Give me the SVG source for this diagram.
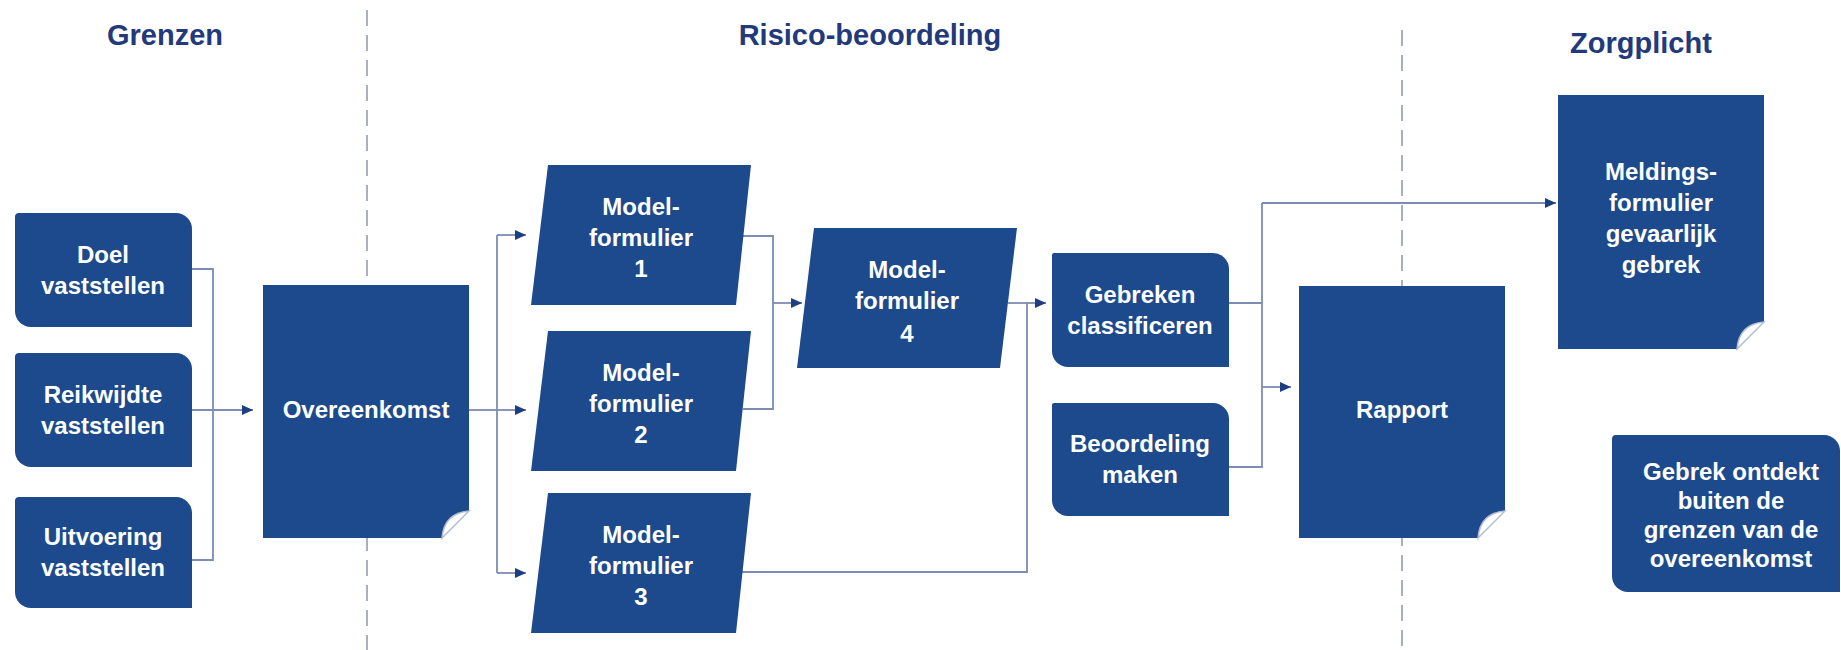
<svg xmlns="http://www.w3.org/2000/svg" width="1841" height="650" viewBox="0 0 1841 650">
<style>
.bg{fill:#ffffff}
.node{fill:#1c4a8c}
.flap{fill:#ffffff;stroke:#b4bccf;stroke-width:1.5}
.lbl{font-family:"Liberation Sans",Arial,sans-serif;font-weight:bold;font-size:24px;fill:#ffffff;text-anchor:middle}
.head{font-family:"Liberation Sans",Arial,sans-serif;font-weight:bold;font-size:29px;fill:#22397c;text-anchor:middle}
.dash{stroke:#a9afbd;stroke-width:2;stroke-dasharray:16 9;fill:none}
.conn{stroke:#7d8cb4;stroke-width:1.8;fill:none}
.arr{stroke:#7d8cb4;stroke-width:1.8;fill:none;marker-end:url(#ah)}
</style>
<defs>
<marker id="ah" markerUnits="userSpaceOnUse" markerWidth="12" markerHeight="10" refX="11" refY="5" orient="auto">
<path d="M0,0 L11,5 L0,10 Z" fill="#1d3f82"/>
</marker>
</defs>
<rect class="bg" x="0" y="0" width="1841" height="650"/>

<g id="lanes">
<line class="dash" x1="367" y1="10" x2="367" y2="650"/>
<line class="dash" x1="1402" y1="30" x2="1402" y2="650"/>
</g>

<g id="headings">
<text class="head" x="165" y="45">Grenzen</text>
<text class="head" x="870" y="45">Risico-beoordeling</text>
<text class="head" x="1641" y="53">Zorgplicht</text>
</g>

<g id="connectors">
<polyline class="conn" points="192,269 213,269 213,560 192,560"/>
<line class="arr" x1="192" y1="410" x2="253" y2="410"/>
<line class="conn" x1="469" y1="410" x2="497" y2="410"/>
<line class="conn" x1="497" y1="235" x2="497" y2="573"/>
<line class="arr" x1="497" y1="235" x2="526" y2="235"/>
<line class="arr" x1="497" y1="410" x2="526" y2="410"/>
<line class="arr" x1="497" y1="573" x2="526" y2="573"/>
<polyline class="conn" points="743,236 773,236 773,409 743,409"/>
<line class="arr" x1="773" y1="303" x2="802" y2="303"/>
<line class="conn" x1="1008" y1="303" x2="1027" y2="303"/>
<polyline class="conn" points="741,572 1027,572 1027,303"/>
<line class="arr" x1="1027" y1="303" x2="1046" y2="303"/>
<polyline class="conn" points="1229,303 1262,303"/>
<polyline class="conn" points="1229,467 1262,467 1262,203"/>
<line class="arr" x1="1262" y1="203" x2="1556" y2="203"/>
<line class="arr" x1="1262" y1="387" x2="1291" y2="387"/>
</g>

<g id="doel">
<path class="node" d="M19,213 H176 A16,16 0 0 1 192,229 V327 H31 A16,16 0 0 1 15,311 V217 A4,4 0 0 1 19,213 Z"/>
<text class="lbl" x="103" y="263">Doel</text>
<text class="lbl" x="103" y="294">vaststellen</text>
</g>

<g id="reikwijdte">
<path class="node" d="M19,353 H176 A16,16 0 0 1 192,369 V467 H31 A16,16 0 0 1 15,451 V357 A4,4 0 0 1 19,353 Z"/>
<text class="lbl" x="103" y="403">Reikwijdte</text>
<text class="lbl" x="103" y="434">vaststellen</text>
</g>

<g id="uitvoering">
<path class="node" d="M19,497 H176 A16,16 0 0 1 192,513 V608 H31 A16,16 0 0 1 15,592 V501 A4,4 0 0 1 19,497 Z"/>
<text class="lbl" x="103" y="545">Uitvoering</text>
<text class="lbl" x="103" y="576">vaststellen</text>
</g>

<g id="overeenkomst">
<path class="node" d="M263,285 H469 V511 L442,538 H263 Z"/>
<path class="flap" d="M442,538 Q444,513 469,511 Z"/>
<text class="lbl" x="366" y="418">Overeenkomst</text>
</g>

<g id="mf1">
<polygon class="node" points="548,165 751,165 736,305 531,305"/>
<text class="lbl" x="641" y="215">Model-</text>
<text class="lbl" x="641" y="246">formulier</text>
<text class="lbl" x="641" y="277">1</text>
</g>

<g id="mf2">
<polygon class="node" points="548,331 751,331 736,471 531,471"/>
<text class="lbl" x="641" y="381">Model-</text>
<text class="lbl" x="641" y="412">formulier</text>
<text class="lbl" x="641" y="443">2</text>
</g>

<g id="mf3">
<polygon class="node" points="548,493 751,493 736,633 531,633"/>
<text class="lbl" x="641" y="543">Model-</text>
<text class="lbl" x="641" y="574">formulier</text>
<text class="lbl" x="641" y="605">3</text>
</g>

<g id="mf4">
<polygon class="node" points="814,228 1017,228 1000,368 797,368"/>
<text class="lbl" x="907" y="278">Model-</text>
<text class="lbl" x="907" y="309">formulier</text>
<text class="lbl" x="907" y="342">4</text>
</g>

<g id="gebreken">
<path class="node" d="M1054,253 H1213 A16,16 0 0 1 1229,269 V367 H1068 A16,16 0 0 1 1052,351 V255 A2,2 0 0 1 1054,253 Z"/>
<text class="lbl" x="1140" y="303">Gebreken</text>
<text class="lbl" x="1140" y="334">classificeren</text>
</g>

<g id="beoordeling">
<path class="node" d="M1054,403 H1213 A16,16 0 0 1 1229,419 V516 H1068 A16,16 0 0 1 1052,500 V405 A2,2 0 0 1 1054,403 Z"/>
<text class="lbl" x="1140" y="452">Beoordeling</text>
<text class="lbl" x="1140" y="483">maken</text>
</g>

<g id="rapport">
<path class="node" d="M1299,286 H1505 V511 L1478,538 H1299 Z"/>
<path class="flap" d="M1478,538 Q1480,513 1505,511 Z"/>
<text class="lbl" x="1402" y="418">Rapport</text>
</g>

<g id="meldingsformulier">
<path class="node" d="M1558,95 H1764 V322 L1737,349 H1558 Z"/>
<path class="flap" d="M1737,349 Q1739,324 1764,322 Z"/>
<text class="lbl" x="1661" y="180">Meldings-</text>
<text class="lbl" x="1661" y="211">formulier</text>
<text class="lbl" x="1661" y="242">gevaarlijk</text>
<text class="lbl" x="1661" y="273">gebrek</text>
</g>

<g id="gebrek-ontdekt">
<path class="node" d="M1616,435 H1824 A16,16 0 0 1 1840,451 V592 H1628 A16,16 0 0 1 1612,576 V439 A4,4 0 0 1 1616,435 Z"/>
<text class="lbl" x="1731" y="480">Gebrek ontdekt</text>
<text class="lbl" x="1731" y="509">buiten de</text>
<text class="lbl" x="1731" y="538">grenzen van de</text>
<text class="lbl" x="1731" y="567">overeenkomst</text>
</g>
</svg>
